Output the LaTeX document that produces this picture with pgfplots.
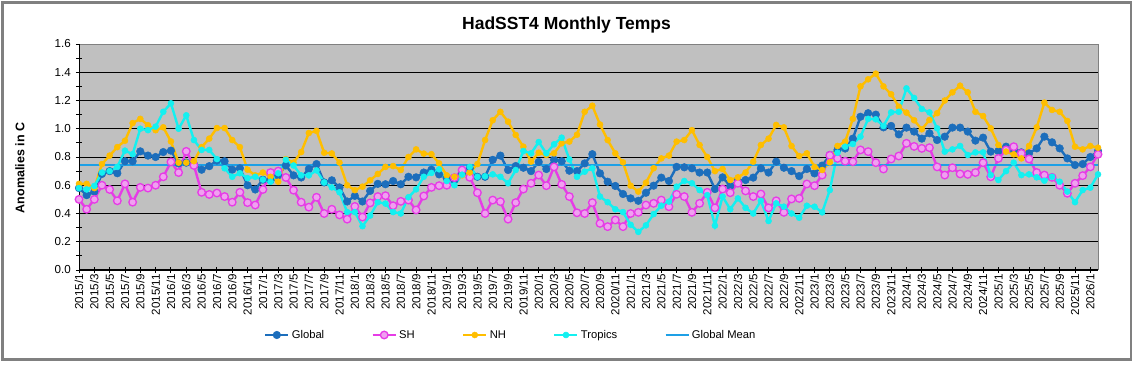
\documentclass[border=0pt]{standalone}
\usepackage{pgfplots}
\pgfplotsset{compat=1.18}
\usepackage{pgfplotstable}
\usepackage{fontspec}
\setmainfont{Liberation Sans}
\definecolor{cglobal}{RGB}{28,110,188}
\definecolor{csh}{RGB}{230,60,230}
\definecolor{cshfill}{RGB}{240,160,240}
\definecolor{cnh}{RGB}{255,190,0}
\definecolor{ctr}{RGB}{20,240,240}
\definecolor{cmean}{RGB}{30,160,230}
\definecolor{cbg}{RGB}{192,192,192}
\definecolor{cframe}{RGB}{128,128,128}
\pgfplotstableread{
i g sh nh tr
0 0.58 0.50 0.61 0.58
1 0.53 0.43 0.61 0.57
2 0.555 0.50 0.58 0.595
3 0.68 0.60 0.75 0.69
4 0.70 0.57 0.81 0.70
5 0.685 0.49 0.87 0.73
6 0.77 0.61 0.915 0.845
7 0.77 0.48 1.04 0.82
8 0.84 0.585 1.07 1.00
9 0.81 0.58 1.025 0.99
10 0.80 0.60 0.99 1.015
11 0.835 0.66 1.01 1.12
12 0.845 0.765 0.91 1.18
13 0.755 0.69 0.76 1.00
14 0.76 0.84 0.76 1.095
15 0.75 0.74 0.77 0.92
16 0.71 0.55 0.87 0.85
17 0.735 0.535 0.93 0.85
18 0.775 0.545 1.005 0.785
19 0.77 0.52 1.005 0.72
20 0.71 0.48 0.92 0.66
21 0.72 0.55 0.87 0.685
22 0.60 0.477 0.71 0.65
23 0.57 0.46 0.67 0.66
24 0.64 0.57 0.69 0.64
25 0.635 0.69 0.66 0.625
26 0.67 0.70 0.625 0.685
27 0.74 0.655 0.785 0.78
28 0.67 0.565 0.76 0.74
29 0.655 0.48 0.835 0.67
30 0.715 0.445 0.97 0.67
31 0.75 0.515 0.985 0.705
32 0.62 0.40 0.83 0.62
33 0.635 0.43 0.825 0.585
34 0.585 0.39 0.76 0.55
35 0.485 0.36 0.60 0.41
36 0.525 0.45 0.565 0.41
37 0.485 0.375 0.59 0.31
38 0.56 0.475 0.635 0.385
39 0.61 0.52 0.68 0.48
40 0.607 0.526 0.73 0.47
41 0.63 0.455 0.736 0.41
42 0.607 0.486 0.708 0.40
43 0.66 0.495 0.80 0.515
44 0.656 0.425 0.854 0.571
45 0.69 0.524 0.824 0.66
46 0.71 0.585 0.82 0.687
47 0.677 0.597 0.755 0.713
48 0.65 0.60 0.67 0.63
49 0.637 0.654 0.66 0.60
50 0.684 0.708 0.67 0.675
51 0.72 0.656 0.69 0.73
52 0.66 0.547 0.75 0.66
53 0.66 0.40 0.92 0.663
54 0.78 0.495 1.06 0.677
55 0.81 0.484 1.12 0.66
56 0.708 0.36 1.05 0.614
57 0.736 0.477 0.956 0.708
58 0.724 0.573 0.873 0.842
59 0.70 0.614 0.767 0.826
60 0.765 0.672 0.83 0.906
61 0.715 0.597 0.814 0.826
62 0.78 0.73 0.826 0.89
63 0.77 0.606 0.897 0.937
64 0.703 0.52 0.909 0.783
65 0.70 0.405 0.958 0.66
66 0.755 0.40 1.12 0.696
67 0.82 0.477 1.163 0.72
68 0.684 0.33 1.03 0.52
69 0.625 0.307 0.92 0.48
70 0.595 0.354 0.826 0.43
71 0.538 0.307 0.762 0.41
72 0.507 0.40 0.597 0.32
73 0.49 0.408 0.555 0.27
74 0.547 0.46 0.618 0.316
75 0.597 0.472 0.72 0.396
76 0.654 0.495 0.79 0.455
77 0.63 0.448 0.81 0.484
78 0.73 0.536 0.909 0.59
79 0.727 0.52 0.92 0.63
80 0.72 0.408 0.99 0.614
81 0.69 0.472 0.885 0.566
82 0.69 0.55 0.80 0.53
83 0.573 0.44 0.70 0.314
84 0.656 0.573 0.715 0.52
85 0.595 0.547 0.637 0.43
86 0.632 0.614 0.656 0.507
87 0.637 0.56 0.69 0.44
88 0.654 0.52 0.767 0.40
89 0.72 0.538 0.885 0.49
90 0.69 0.44 0.93 0.347
91 0.767 0.49 1.027 0.472
92 0.724 0.408 1.01 0.448
93 0.70 0.503 0.878 0.40
94 0.665 0.507 0.807 0.37
95 0.715 0.609 0.826 0.455
96 0.684 0.597 0.73 0.448
97 0.739 0.672 0.708 0.408
98 0.814 0.812 0.762 0.566
99 0.85 0.79 0.878 0.83
100 0.86 0.77 0.909 0.873
101 0.93 0.767 1.07 0.892
102 1.085 0.85 1.30 0.944
103 1.11 0.838 1.35 1.07
104 1.10 0.76 1.39 1.067
105 1.01 0.715 1.30 1.02
106 1.02 0.786 1.244 1.116
107 0.96 0.807 1.156 1.12
108 1.008 0.897 1.114 1.286
109 0.98 0.875 1.06 1.218
110 0.93 0.861 0.996 1.14
111 0.968 0.866 1.062 1.116
112 0.92 0.73 1.11 1.003
113 0.944 0.672 1.20 0.838
114 1.008 0.724 1.258 0.854
115 1.008 0.68 1.305 0.878
116 0.98 0.677 1.258 0.814
117 0.916 0.69 1.12 0.833
118 0.937 0.76 1.09 0.833
119 0.838 0.66 1.003 0.672
120 0.842 0.79 0.885 0.637
121 0.873 0.85 0.838 0.70
122 0.85 0.873 0.819 0.76
123 0.833 0.826 0.79 0.672
124 0.826 0.786 0.878 0.677
125 0.861 0.69 1.01 0.656
126 0.944 0.672 1.185 0.632
127 0.904 0.656 1.133 0.66
128 0.861 0.60 1.12 0.625
129 0.79 0.543 1.055 0.555
130 0.743 0.614 0.873 0.48
131 0.75 0.668 0.854 0.566
132 0.80 0.73 0.878 0.583
133 0.842 0.819 0.866 0.677
}\datatable
\begin{document}
\begin{tikzpicture}
\path[use as bounding box] (0pt,0pt) rectangle (1138pt,369pt);
\fill[white] (0pt,0pt) rectangle (1138pt,369pt);
\draw[cframe, line width=2.6pt] (2.3pt,9.5pt) rectangle (1131pt,366.7pt);
\node[font=\fontsize{17.5}{20}\selectfont\bfseries] at (566.5pt,344pt) {HadSST4 Monthly Temps};
\node[font=\fontsize{12.5}{14}\selectfont\bfseries, rotate=90] at (20pt,201pt) {Anomalies in C};
\begin{axis}[
  at={(79pt,99pt)}, anchor=origin,
  scale only axis, width=1019pt, height=226pt,
  xmin=0, xmax=133, ymin=0, ymax=1.6,
  axis background/.style={fill=cbg},
  axis line style={draw=none},
  xtick={0,2,...,132},
  xticklabels={2015/1,2015/3,2015/5,2015/7,2015/9,2015/11,
    2016/1,2016/3,2016/5,2016/7,2016/9,2016/11,
    2017/1,2017/3,2017/5,2017/7,2017/9,2017/11,
    2018/1,2018/3,2018/5,2018/7,2018/9,2018/11,
    2019/1,2019/3,2019/5,2019/7,2019/9,2019/11,
    2020/1,2020/3,2020/5,2020/7,2020/9,2020/11,
    2021/1,2021/3,2021/5,2021/7,2021/9,2021/11,
    2022/1,2022/3,2022/5,2022/7,2022/9,2022/11,
    2023/1,2023/3,2023/5,2023/7,2023/9,2023/11,
    2024/1,2024/3,2024/5,2024/7,2024/9,2024/11,
    2025/1,2025/3,2025/5,2025/7,2025/9,2025/11,
    2026/1},
  xticklabel style={rotate=90, anchor=east, font=\fontsize{11.6}{12}\selectfont, inner sep=1pt},
  ytick={0,0.2,...,1.6},
  minor y tick num=1,
  yticklabel style={font=\fontsize{11.6}{12}\selectfont, inner sep=1pt, xshift=-4pt},
  /pgf/number format/assume math mode=true,
  /pgf/number format/.cd, fixed, fixed zerofill, precision=1, /pgfplots/.cd,
  tick align=center,
  major tick length=6pt, minor tick length=5pt,
  tick style={black, line width=0.9pt},
  tick pos=left,
  ymajorgrids, major grid style={black, line width=0.9pt},
  clip=false,
  legend columns=5,
  legend style={at={(0.1815,-0.2876)}, anchor=west, draw=none, fill=none,
    inner sep=0pt, font=\fontsize{11.2}{12}\selectfont,
    /tikz/every even column/.append style={column sep=45pt},
    nodes={inner sep=2.3pt}},
  legend image code/.code={\draw[mark repeat=2,mark phase=2,#1] plot coordinates {(0pt,0pt)(11.5pt,0pt)(23pt,0pt)};},
]
\addplot[cglobal, line width=2.4pt, mark=*, mark size=3.8pt, mark options={solid, draw=cglobal, fill=cglobal, line width=0.5pt}] table[x=i,y=g]{\datatable};
\addlegendentry{Global}
\addplot[csh, line width=2.4pt, mark=*, mark size=3.8pt, mark options={solid, draw=csh, fill=cshfill, line width=1.3pt}] table[x=i,y=sh]{\datatable};
\addlegendentry{SH}
\addplot[cnh, line width=2.4pt, mark=*, mark size=3pt, mark options={solid, draw=cnh, fill=cnh, line width=0.5pt}] table[x=i,y=nh]{\datatable};
\addlegendentry{NH}
\addplot[ctr, line width=2.4pt, mark=*, mark size=3pt, mark options={solid, draw=ctr, fill=ctr, line width=0.5pt}] table[x=i,y=tr]{\datatable};
\addlegendentry{Tropics}
\addplot[cmean, line width=2pt, no marks] coordinates {(0,0.741) (133,0.741)};
\addlegendentry{Global Mean}
\draw[cframe, line width=0.8pt] (rel axis cs:0,1) -- (rel axis cs:1,1) -- (rel axis cs:1,0);
\draw[black, line width=1pt] (rel axis cs:0,1) -- (rel axis cs:0,0) -- (rel axis cs:1,0);
\end{axis}
\end{tikzpicture}
\end{document}
